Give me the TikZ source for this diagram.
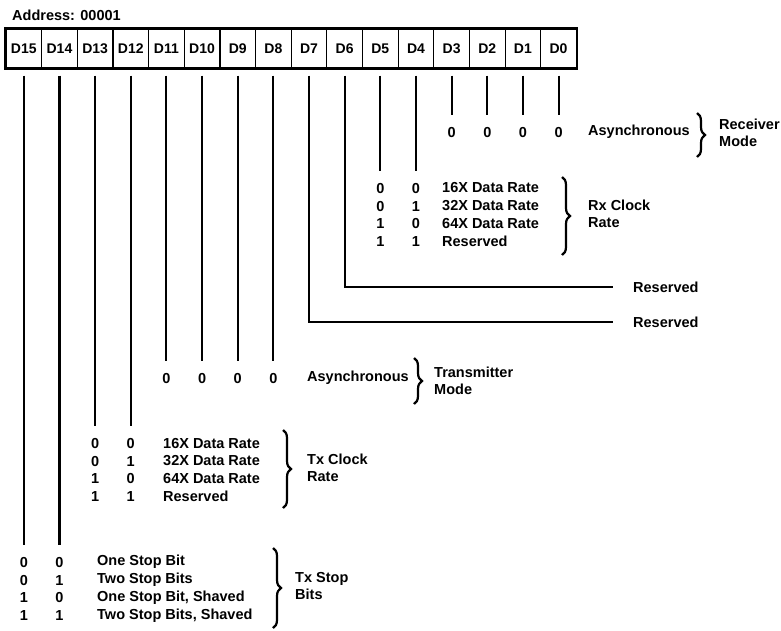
\documentclass[tikz,border=0pt]{standalone}
\usepackage{fontspec}
\setmainfont{Liberation Sans}
\usetikzlibrary{decorations.pathreplacing}

\begin{document}
\begin{tikzpicture}[
   x=1pt, y=-1pt,
   font=\fontsize{14.5}{17.5}\selectfont\bfseries,
   cell/.style = {draw, line width=1.2pt, minimum width=35.65pt,
                  minimum height=39pt, inner sep=0pt, font=\fontsize{14}{16}\selectfont\bfseries},
   bit/.style  = {inner sep=0pt, text height=10.5pt, text depth=0pt},
   lbl/.style  = {anchor=west, inner sep=0pt, align=left},
   wire/.style = {line width=2.1pt, shorten <=7pt, shorten >=12pt},
   brc/.style  = {decorate, decoration={brace, amplitude=8pt}, line width=2.2pt}
]
\useasboundingbox (0,0) rectangle (781,630);
\node[lbl] (addr) at (12,15) {Address: 00001};
\foreach \i in {0,...,15}
  \node[cell] (d\i) at ({6+35.65*(15.5-\i)},48.5) {D\i};
\draw[line width=2.5pt] (d15.north west) rectangle (d0.south east);

\foreach \i in {3,...,0}{
  \node[bit] (rm\i) at (d\i |- 0,132) {0};
  \draw[wire] (d\i.south) -- (rm\i.north);
}
\node[lbl] (rmt) at (588,132) {Asynchronous};
\draw[brc] (697,113) -- (697,157);
\node[lbl] (rmg) at (719,133) {Receiver\\Mode};

\foreach \b/\c/\t [count=\r from 0] in {0/0/{16X Data Rate},0/1/{32X Data Rate},
                                        1/0/{64X Data Rate},1/1/{Reserved}}{
  \pgfmathsetmacro\yy{188+17.8*\r}
  \node[bit] (rcA\r) at (d5 |- 0,\yy) {\b};
  \node[bit] (rcB\r) at (d4 |- 0,\yy) {\c};
  \node[lbl] (rct\r) at (442,\yy) {\t};
}
\draw[wire] (d5.south) -- (rcA0.north);
\draw[wire] (d4.south) -- (rcB0.north);
\draw[brc] (562,177) -- (562,255);
\node[lbl] (rcg) at (588,214) {Rx Clock\\Rate};

\node[lbl] (res6) at (633,287) {Reserved};
\node[lbl] (res7) at (633,322) {Reserved};
\draw[wire, shorten >=20pt] (d6.south) |- (res6.west);
\draw[wire, shorten >=20pt] (d7.south) |- (res7.west);

\foreach \i in {11,...,8}{
  \node[bit] (tm\i) at (d\i |- 0,378) {0};
  \draw[wire] (d\i.south) -- (tm\i.north);
}
\node[lbl] (tmt) at (307,378) {Asynchronous};
\draw[brc] (414,358) -- (414,404);
\node[lbl] (tmg) at (434,381) {Transmitter\\Mode};

\foreach \b/\c/\t [count=\r from 0] in {0/0/{16X Data Rate},0/1/{32X Data Rate},
                                        1/0/{64X Data Rate},1/1/{Reserved}}{
  \pgfmathsetmacro\yy{443+17.8*\r}
  \node[bit] (tcA\r) at (d13 |- 0,\yy) {\b};
  \node[bit] (tcB\r) at (d12 |- 0,\yy) {\c};
  \node[lbl] (tct\r) at (163,\yy) {\t};
}
\draw[wire] (d13.south) -- (tcA0.north);
\draw[wire] (d12.south) -- (tcB0.north);
\draw[brc] (283,430) -- (283,508);
\node[lbl] (tcg) at (307,468) {Tx Clock\\Rate};

\foreach \b/\c/\t [count=\r from 0] in {0/0/{One Stop Bit},0/1/{Two Stop Bits},
                                        1/0/{One Stop Bit, Shaved},1/1/{Two Stop Bits, Shaved}}{
  \pgfmathsetmacro\yy{562+17.8*\r}
  \node[bit] (tsA\r) at (d15 |- 0,\yy) {\b};
  \node[bit] (tsB\r) at (d14 |- 0,\yy) {\c};
  \node[lbl] (tst\r) at (97,\yy) {\t};
}
\draw[wire] (d15.south) -- (tsA0.north);
\draw[wire] (d14.south) -- (tsB0.north);
\draw[brc] (273,548) -- (273,628);
\node[lbl] (tsg) at (295,586) {Tx Stop\\Bits};
\end{tikzpicture}
\end{document}
